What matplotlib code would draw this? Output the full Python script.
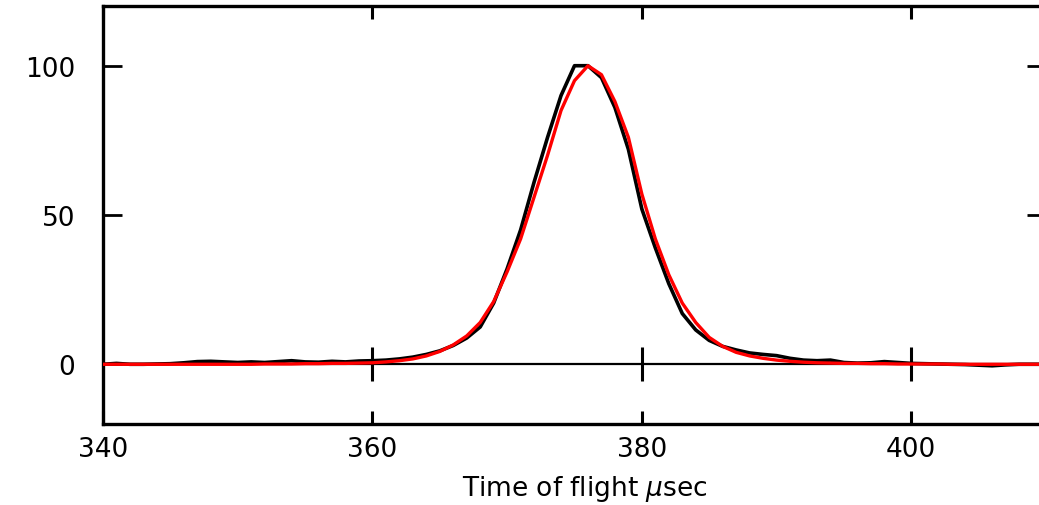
import numpy as np
import matplotlib
matplotlib.use('Agg')
import matplotlib.pyplot as plt

# measured time-of-flight profile (black) and fitted profile (red), peak normalised to 100
t_data = np.arange(340, 411)
v_data = [0.0, 0.3, 0.0, 0.0, 0.1, 0.2, 0.5, 0.9, 1.0, 0.8,
          0.6, 0.8, 0.6, 0.9, 1.2, 0.8, 0.7, 1.0, 0.8, 1.1,
          1.2, 1.4, 1.8, 2.4, 3.3, 4.5, 6.3, 8.8, 12.5, 20.5,
          32.0, 45.0, 61.0, 76.0, 90.0, 100.0, 100.0, 96.0, 86.0, 72.0,
          52.0, 39.0, 27.0, 17.0, 11.5, 8.0, 6.0, 4.8, 3.8, 3.3,
          2.9, 2.0, 1.4, 1.2, 1.4, 0.6, 0.4, 0.5, 0.9, 0.6,
          0.3, 0.2, 0.1, 0.0, -0.1, -0.3, -0.5, -0.2, 0.0, 0.0,
          0.0]
t_fit = np.arange(340, 411)
v_fit = [0.0, 0.0, 0.0, 0.0, 0.0, 0.0, 0.0, 0.0, 0.0, 0.0,
         0.0, 0.0, 0.1, 0.1, 0.1, 0.2, 0.2, 0.3, 0.3, 0.4,
         0.5, 0.8, 1.2, 1.8, 2.8, 4.3, 6.5, 9.5, 14.0, 21.0,
         31.0, 42.0, 56.0, 70.0, 85.0, 95.0, 100.0, 97.0, 88.0, 76.0,
         57.0, 42.0, 30.0, 20.5, 14.0, 9.0, 6.0, 4.0, 2.8, 2.0,
         1.4, 1.0, 0.7, 0.5, 0.4, 0.3, 0.3, 0.2, 0.2, 0.1,
         0.1, 0.1, 0.1, 0.0, 0.0, 0.0, 0.0, 0.0, 0.0, 0.0,
         0.0]
x_ticks = [340, 360, 380, 400]
y_ticks = [0, 50, 100]

plt.rcParams['font.family'] = 'DejaVu Sans'

fig = plt.figure(figsize=(10.39, 5.06), dpi=100)
ax = fig.add_axes([103 / 1039, 81 / 506, 943 / 1039, 418 / 506])

ax.axhline(0, color='black', lw=1.6, zorder=1)
# cross ticks on the zero line
ax.plot(x_ticks[1:], [0] * len(x_ticks[1:]), ls='none', marker='|',
        ms=25, mew=2.2, color='black', zorder=1)

ax.plot(t_data, v_data, color='black', lw=2.6, zorder=2)
ax.plot(t_fit, v_fit, color='red', lw=2.4, zorder=3)

ax.set_xlim(340, 410)
ax.set_ylim(-20, 120)
ax.set_xticks(x_ticks)
ax.set_yticks(y_ticks)
ax.tick_params(axis='x', direction='in', top=True, length=9.5, width=2.2,
               labelsize=19, pad=9)
ax.tick_params(axis='y', direction='in', right=True, length=14, width=2.0,
               labelsize=19, pad=20)
for s in ax.spines.values():
    s.set_linewidth(2.4)

fig.text(585 / 1039, 1 - 489 / 506, r'Time of flight $\mu$sec', fontsize=19,
         ha='center', va='center')

fig.savefig('out.png', dpi=100)
